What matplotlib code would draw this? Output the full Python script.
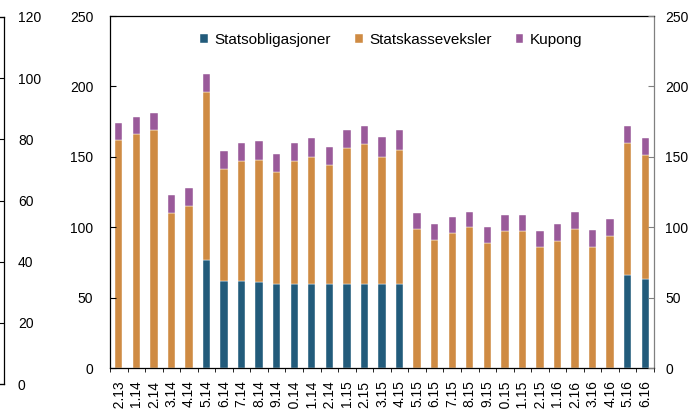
import numpy as np
import matplotlib.pyplot as plt

plt.rcParams['font.family'] = ['Liberation Sans', 'DejaVu Sans']
plt.rcParams['font.size'] = 10

# Monthly labels (month.year)
months = ["12.13", "1.14", "2.14", "3.14", "4.14", "5.14", "6.14", "7.14", "8.14",
          "9.14", "10.14", "11.14", "12.14", "1.15", "2.15", "3.15", "4.15", "5.15",
          "6.15", "7.15", "8.15", "9.15", "10.15", "11.15", "12.15", "1.16", "2.16",
          "3.16", "4.16", "5.16", "6.16"]

statsobligasjoner = [0, 0, 0, 0, 0, 77, 62, 62, 61, 60, 60, 60, 60, 60, 60, 60, 60, 0,
                     0, 0, 0, 0, 0, 0, 0, 0, 0, 0, 0, 66, 63]
statskasseveksler = [162, 166, 169, 110, 115, 119, 79, 85, 87, 79, 87, 90, 84, 96, 99,
                     90, 95, 99, 91, 96, 100, 89, 97, 97, 86, 90, 99, 86, 94, 94, 88]
kupong = [12, 12, 12, 13, 13, 13, 13, 13, 13, 13, 13, 13, 13, 13, 13, 14, 14, 11,
          11, 11, 11, 11, 11.5, 11.5, 11, 12, 12, 12, 12, 12, 12]

blue = "#225b7b"
orange = "#cf8b43"
purple = "#9a5a9a"

W, H = 693, 409
fig = plt.figure(figsize=(W / 100, H / 100), dpi=100)

# Right edge of the neighbouring panel (0-120 scale)
ax0 = fig.add_axes([-0.2, (H - 384) / H, 0.2 + 4 / W, (384 - 17) / H])
ax0.set_ylim(0, 120)
ax0.set_yticks(np.arange(0, 121, 20))
ax0.set_xticks([])
ax0.yaxis.tick_right()
ax0.spines["left"].set_visible(False)
ax0.tick_params(axis="y", direction="in", length=4, pad=10, labelsize=10)
for s in ax0.spines.values():
    s.set_linewidth(0.9)

ax = fig.add_axes([110 / W, (H - 368) / H, 544 / W, (368 - 16) / H])
x = np.arange(len(months))
bot = np.array(statsobligasjoner, dtype=float)
mid = np.array(statskasseveksler, dtype=float)
top = np.array(kupong, dtype=float)
w = 0.42
ax.bar(x, bot, w, color=blue, edgecolor="white", linewidth=0.3, label="Statsobligasjoner")
ax.bar(x, mid, w, bottom=bot, color=orange, edgecolor="white", linewidth=0.3, label="Statskasseveksler")
ax.bar(x, top, w, bottom=bot + mid, color=purple, edgecolor="white", linewidth=0.3, label="Kupong")

ax.set_xlim(-0.5, len(months) - 0.5)
ax.set_ylim(0, 250)
ax.set_yticks(np.arange(0, 251, 50))
ax.set_xticks(x)
ax.set_xticklabels(months, rotation=90, va="top", ha="center")
ax.set_xticks(np.arange(-0.5, len(months), 1), minor=True)
ax.tick_params(axis="x", which="major", length=0, pad=9)
ax.tick_params(axis="x", which="minor", length=3, direction="out")
ax.tick_params(axis="y", direction="in", length=4, pad=12)
for s in ax.spines.values():
    s.set_linewidth(0.9)
ax.spines["right"].set_color("#808080")

ax2 = ax.twinx()
ax2.set_ylim(0, 250)
ax2.set_yticks(np.arange(0, 251, 50))
ax2.tick_params(axis="y", direction="in", length=4, pad=8, color="#808080")
for s in ax2.spines.values():
    s.set_visible(False)

leg = ax.legend(loc="center", bbox_to_anchor=(0.517, 0.932), ncol=3, frameon=False,
                handlelength=0.5, handleheight=0.5, handletextpad=0.4,
                columnspacing=1.6, fontsize=11)

fig.savefig("out.png", dpi=100)
